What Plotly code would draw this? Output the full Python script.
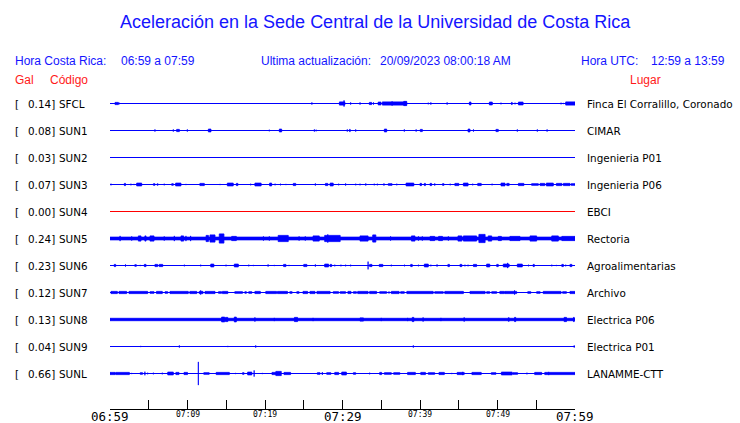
import plotly.graph_objects as go

# ---------------- data ----------------
TITLE = "Aceleración en la Sede Central de la Universidad de Costa Rica"
HORA_CR = "06:59 a 07:59"
HORA_UTC = "12:59 a 13:59"
ACTUALIZACION = "20/09/2023 08:00:18 AM"

CODES = ["SFCL", "SUN1", "SUN2", "SUN3", "SUN4", "SUN5", "SUN6", "SUN7", "SUN8", "SUN9", "SUNL"]
GAL = [0.14, 0.08, 0.03, 0.07, 0.00, 0.24, 0.23, 0.12, 0.13, 0.04, 0.66]
PLACES = ["Finca El Corralillo, Coronado", "CIMAR", "Ingenieria P01", "Ingenieria P06", "EBCI",
          "Rectoria", "Agroalimentarias", "Archivo", "Electrica P06", "Electrica P01", "LANAMME-CTT"]

TICK_MINUTES = list(range(0, 61, 5))
TICK_LABELS = {0: "06:59", 10: "07:09", 20: "07:19", 30: "07:29", 40: "07:39", 50: "07:49", 60: "07:59"}
MAJOR_LABELS = ["06:59", "07:29", "07:59"]

# Signal activity: spikes as (t, amp) and bursts as (t0, t1, amp)
SFCL_EV = [(0.65, 1.08, 1.5), (1.18, 1.2), (26.05, 1.5), (29.6, 30.3, 2.0), (30.2, 3.5), (31.05, 1.5),
           (32.26, 1.5), (33.46, 33.76, 1.5), (34.0, 1.5), (34.6, 34.97, 1.8), (35.14, 38.28, 2.0),
           (36.4, 2.5), (37.9, 38.28, 2.5), (41.07, 1.2), (41.4, 1.5), (43.5, 1.5), (46.37, 46.58, 1.8),
           (48.95, 49.33, 1.8), (50.45, 1.2), (51.8, 51.9, 1.5), (52.26, 1.2), (52.7, 53.3, 1.8),
           (58.2, 1.2), (58.5, 1.0), (58.8, 60.0, 2.0)]
SUN1_EV = [(5.8, 1.5), (8.17, 1.5), (8.6, 8.95, 1.5), (9.98, 1.5), (12.69, 13.03, 1.8), (20.56, 1.2),
           (21.85, 22.15, 1.8), (26.37, 1.5), (26.6, 1.2), (30.62, 1.5), (30.9, 31.0, 1.5), (31.7, 1.5),
           (35.4, 35.7, 1.8), (37.98, 1.5), (39.5, 1.5), (40.04, 40.3, 1.5), (46.2, 46.45, 1.8),
           (46.9, 1.5), (49.8, 50.1, 1.5), (52.56, 1.5), (55.14, 1.5), (56.4, 1.5)]
SUN2_EV = []
SUN3_EV = [(0.13, 1.2), (1.85, 2.0, 1.5), (2.7, 1.2), (3.1, 1.0), (3.44, 4.09, 1.8), (5.6, 5.8, 1.2),
           (6.1, 6.2, 1.2), (7.0, 1.2), (7.96, 8.17, 1.2), (8.47, 9.16, 1.8), (9.8, 1.0), (11.6, 12.17, 1.5),
           (14.2, 1.0), (15.14, 15.9, 1.8), (16.3, 16.5, 1.5), (18.15, 1.2), (18.7, 19.5, 1.8),
           (20.6, 20.86, 1.8), (21.3, 1.2), (22.0, 1.2), (22.7, 1.0), (23.65, 23.96, 1.5), (26.5, 1.5),
           (27.8, 28.1, 1.5), (28.4, 28.8, 1.8), (29.5, 1.2), (30.4, 1.5), (31.7, 1.2), (32.26, 1.2),
           (33.0, 1.5), (34.1, 1.2), (34.5, 1.2), (35.35, 1.5), (35.9, 36.4, 1.2), (37.0, 1.2),
           (38.2, 39.2, 1.8), (40.0, 40.2, 1.5), (40.56, 40.7, 1.5), (41.3, 41.5, 1.5), (41.9, 1.5),
           (42.9, 43.1, 1.2), (43.9, 1.2), (44.5, 45.0, 1.5), (45.6, 46.2, 1.8), (46.8, 1.2),
           (47.45, 47.9, 1.5), (49.3, 1.2), (50.45, 50.97, 1.8), (51.2, 51.5, 1.5), (52.7, 53.4, 1.5),
           (54.4, 55.27, 1.2), (55.5, 56.1, 1.5), (56.3, 57.2, 1.8), (57.6, 58.3, 1.5), (58.5, 59.35, 1.5),
           (59.5, 60.0, 1.2)]
SUN4_EV = []
SUN5_EV = [(0.0, 60.0, 1.8), (1.3, 3.0), (2.8, 2.5), (3.66, 4.0, 3.0), (4.5, 4.65, 3.0), (5.16, 5.68, 3.0),
           (7.0, 2.5), (8.3, 3.0), (9.16, 9.5, 3.0), (9.8, 3.0), (10.4, 3.0), (12.4, 12.7, 3.5),
           (12.9, 13.55, 4.0), (14.1, 14.7, 5.0), (15.7, 16.3, 2.5), (19.8, 2.5), (20.56, 2.5),
           (21.7, 23.0, 3.5), (24.4, 2.5), (25.2, 2.5), (26.2, 27.0, 3.0), (27.7, 29.7, 3.5), (28.1, 4.5),
           (32.26, 33.3, 3.0), (33.9, 34.3, 4.0), (36.2, 2.5), (38.9, 39.35, 3.0), (39.8, 2.5), (40.3, 2.5),
           (41.3, 41.9, 2.5), (42.4, 42.9, 2.5), (43.66, 2.5), (44.9, 45.4, 3.0), (45.6, 47.3, 3.0),
           (47.6, 48.4, 4.5), (48.8, 49.25, 3.0), (50.1, 50.5, 2.5), (51.6, 52.9, 2.5), (54.2, 55.05, 3.0),
           (57.0, 57.85, 3.0), (58.3, 60.0, 2.5)]
SUN6_EV = [(0.55, 0.73, 1.5), (2.0, 1.5), (3.2, 3.4, 1.2), (3.9, 1.0), (4.43, 4.65, 1.5), (5.8, 6.15, 1.5),
           (6.35, 6.8, 1.5), (9.6, 1.2), (11.7, 1.2), (13.0, 13.4, 1.8), (14.97, 1.2), (16.04, 16.56, 1.8),
           (17.9, 1.2), (18.5, 1.0), (20.4, 1.5), (21.2, 1.0), (22.4, 22.7, 1.5), (23.1, 1.0), (25.0, 25.4, 1.5),
           (26.5, 1.5), (27.7, 28.2, 1.8), (28.4, 28.6, 1.5), (29.0, 1.2), (29.8, 1.2), (30.4, 1.2),
           (31.05, 1.2), (33.3, 4.3), (33.5, 33.8, 1.5), (34.75, 35.2, 1.5), (36.3, 1.2), (38.0, 1.2),
           (38.8, 39.0, 1.5), (39.8, 1.2), (40.56, 41.07, 1.8), (41.4, 1.2), (42.2, 1.5), (43.6, 43.8, 1.5),
           (45.16, 45.4, 1.5), (45.8, 1.2), (46.2, 1.2), (46.9, 47.3, 1.5), (48.6, 49.0, 1.8),
           (49.9, 50.1, 1.5), (50.75, 51.5, 1.8), (51.3, 3.0), (52.56, 53.2, 1.8), (54.0, 1.2),
           (54.6, 54.75, 1.5), (57.0, 1.2), (57.6, 1.0), (58.3, 58.5, 1.5), (58.8, 1.2), (59.35, 59.6, 1.5)]
SUN7_EV = [(0.13, 0.95, 1.5), (1.16, 2.15, 1.5), (2.45, 4.86, 1.5), (5.16, 5.68, 1.2), (6.0, 6.75, 1.5),
           (7.1, 7.45, 1.2), (7.74, 10.1, 1.5), (10.3, 11.2, 1.5), (11.5, 12.0, 1.5), (11.7, 2.5),
           (12.26, 13.55, 1.5), (14.0, 14.4, 1.2), (14.5, 15.2, 1.5), (16.1, 17.1, 1.2), (17.4, 17.6, 1.2),
           (17.9, 18.3, 1.2), (18.7, 19.4, 1.5), (20.1, 21.5, 1.5), (21.6, 22.9, 1.5), (23.2, 23.5, 1.2),
           (24.1, 24.4, 1.2), (24.9, 25.5, 1.5), (25.8, 26.45, 1.5), (26.7, 28.4, 1.5), (28.8, 29.5, 1.2),
           (29.7, 30.4, 1.2), (30.7, 31.1, 1.5), (31.4, 31.8, 1.2), (31.96, 33.3, 1.5), (33.5, 34.4, 1.5),
           (34.8, 35.7, 1.2), (35.9, 36.1, 1.0), (36.3, 37.3, 1.5), (37.5, 37.98, 1.2), (38.3, 41.7, 1.5),
           (41.9, 43.0, 1.2), (43.2, 45.6, 1.5), (46.45, 48.4, 1.5), (48.6, 49.0, 1.2), (49.25, 49.9, 1.2),
           (50.3, 50.9, 1.5), (50.97, 52.47, 1.5), (52.2, 2.5), (53.9, 54.3, 1.2), (55.05, 55.5, 1.2),
           (55.9, 58.2, 1.5), (58.4, 58.9, 1.2), (59.35, 60.0, 1.5)]
SUN8_EV = [(0.0, 60.0, 1.6), (14.4, 14.8, 2.8), (14.9, 15.2, 2.5), (16.04, 16.3, 2.8), (18.7, 2.5),
           (21.2, 2.0), (23.8, 24.2, 2.5), (26.2, 2.0), (32.26, 32.7, 2.0), (35.0, 2.0), (38.4, 2.0),
           (39.0, 39.2, 2.5), (40.4, 2.5), (42.7, 2.0), (45.7, 2.5), (51.4, 51.5, 2.2), (52.2, 52.35, 2.5),
           (58.6, 58.9, 2.5), (59.8, 59.9, 2.5)]
SUN9_EV = [(3.96, 1.0), (8.95, 1.5), (15.2, 1.0), (18.8, 1.5), (39.14, 1.5), (59.9, 1.5)]
SUNL_EV = [(0.0, 0.65, 1.5), (0.73, 2.5, 1.5), (2.8, 1.0), (3.9, 4.2, 1.2), (4.5, 2.2), (4.86, 1.2),
           (5.6, 1.2), (6.75, 1.2), (7.45, 8.17, 1.8), (8.5, 8.9, 1.5), (9.55, 10.0, 1.5), (11.4, 12.0),
           (12.1, 12.8, 1.2), (13.7, 15.4, 1.5), (16.2, 1.0), (17.1, 17.3, 1.2), (17.76, 18.3, 1.8),
           (18.6, 3.5), (19.66, 1.0), (20.9, 21.4, 1.5), (21.4, 22.1, 2.5), (22.45, 23.3, 1.5),
           (26.75, 27.1, 1.2), (27.4, 1.8), (27.96, 28.5, 1.2), (29.0, 29.5, 1.5), (29.9, 30.5, 1.8),
           (31.4, 31.7, 1.2), (33.5, 1.2), (34.8, 35.05, 1.5), (35.4, 36.3, 1.2), (36.6, 37.4, 1.2),
           (38.4, 39.4, 1.5), (40.1, 40.7, 1.5), (41.07, 41.9, 1.2), (42.45, 43.14, 1.5), (44.1, 1.0),
           (44.8, 45.7, 1.5), (45.5, 2.0), (46.7, 47.9, 1.5), (49.2, 49.8, 1.2), (50.5, 51.9, 1.8),
           (52.0, 52.6, 1.2), (53.8, 1.2), (54.8, 55.7, 1.5), (56.1, 60.0, 1.5), (56.6, 2.0)]

EVENTS = [SFCL_EV, SUN1_EV, SUN2_EV, SUN3_EV, SUN4_EV, SUN5_EV, SUN6_EV, SUN7_EV, SUN8_EV, SUN9_EV, SUNL_EV]

# ---------------- layout helpers ----------------
W, H = 740, 423
ML, MR, MT, MB = 110, 165, 90, 14
PW, PH = W - ML - MR, H - MT - MB
SPACING_PX = 27.0
AMP = 1.0 / SPACING_PX          # amplitude units -> trace spacing units
Y_TOP = 0.5
Y_BOT = Y_TOP - PH / SPACING_PX

BLUE = "#0000ff"
RED = "#ff0000"
TXT_BLUE = "#1414ff"
TXT_RED = "#ff1a1a"


def xp(px):
    return (px - ML) / PW


def yp(py):
    return (H - MB - py) / PH


def y_px(i):
    return MT + (Y_TOP + i) * SPACING_PX


fig = go.Figure()

for i, (code, ev) in enumerate(zip(CODES, EVENTS)):
    off = -i
    color = RED if GAL[i] == 0 else BLUE
    fig.add_trace(go.Scatter(x=[0, 60], y=[off, off], mode="lines",
                             line=dict(color=color, width=1), hoverinfo="skip"))
    xs, ys = [], []
    for e in ev:
        if len(e) == 2:
            t0 = t1 = e[0]
            a = e[1]
        else:
            t0, t1, a = e
        ya = max(a - 0.4, 0.3) * AMP
        xs += [t0, t1, t1, t0, t0, None]
        ys += [off - ya, off - ya, off + ya, off + ya, off - ya, None]
    if xs:
        fig.add_trace(go.Scatter(x=xs, y=ys, mode="lines", fill="toself", fillcolor=color,
                                 line=dict(color=color, width=0.8), hoverinfo="skip"))

ann = []


def text(px, py, s, size, color, family, anchor="left", yanchor="middle"):
    ann.append(dict(x=xp(px), y=yp(py), xref="paper", yref="paper", text=s, showarrow=False,
                    xanchor=anchor, yanchor=yanchor, borderpad=0, borderwidth=0,
                    font=dict(size=size, color=color, family=family)))


SANS = "Liberation Sans, Arial, sans-serif"
DJ = "DejaVu Sans, sans-serif"
MONO = "DejaVu Sans Mono, monospace"

text(375, 22, TITLE, 18, TXT_BLUE, SANS, anchor="center")
text(15, 61, "Hora Costa Rica:", 12, TXT_BLUE, SANS)
text(121, 61, HORA_CR, 12, TXT_BLUE, SANS)
text(260.5, 61, "Ultima actualización:", 12, TXT_BLUE, SANS)
text(380, 61, ACTUALIZACION, 12, TXT_BLUE, SANS)
text(580.5, 61, "Hora UTC:", 12, TXT_BLUE, SANS)
text(650.5, 61, HORA_UTC, 12, TXT_BLUE, SANS)
text(15, 80, "Gal", 12, TXT_RED, SANS)
text(50, 80, "Código", 12, TXT_RED, SANS)
text(630, 80, "Lugar", 12, TXT_RED, SANS)

for i, code in enumerate(CODES):
    py = y_px(i)
    text(15, py, "[", 10.4, "black", DJ)
    text(54.5, py, "%.2f]" % GAL[i], 10.4, "black", DJ, anchor="right")
    text(58.5, py, code, 10.4, "black", DJ)
    text(587, py, PLACES[i], 10.4, "black", DJ)

for m, lab in TICK_LABELS.items():
    major = lab in MAJOR_LABELS
    ann.append(dict(x=m, y=yp(416 if major else 414), xref="x", yref="paper", text=lab,
                    showarrow=False, xanchor="center", yanchor="middle", borderpad=0,
                    font=dict(size=12.5 if major else 8, color="black", family=MONO)))

fig.update_layout(
    width=W, height=H, margin=dict(l=ML, r=MR, t=MT, b=MB, pad=0),
    paper_bgcolor="white", plot_bgcolor="white", showlegend=False,
    annotations=ann,
    xaxis=dict(range=[0, 60], tickvals=TICK_MINUTES, ticks="inside", ticklen=9, tickwidth=1,
               tickcolor="black", showline=True, linecolor="black", linewidth=1,
               showgrid=False, zeroline=False, showticklabels=False, fixedrange=True),
    yaxis=dict(range=[Y_BOT, Y_TOP], visible=False, fixedrange=True),
)

fig.write_html("out.html", config={"displayModeBar": False},
               post_script="document.body.style.margin='0';document.body.style.padding='0';")
